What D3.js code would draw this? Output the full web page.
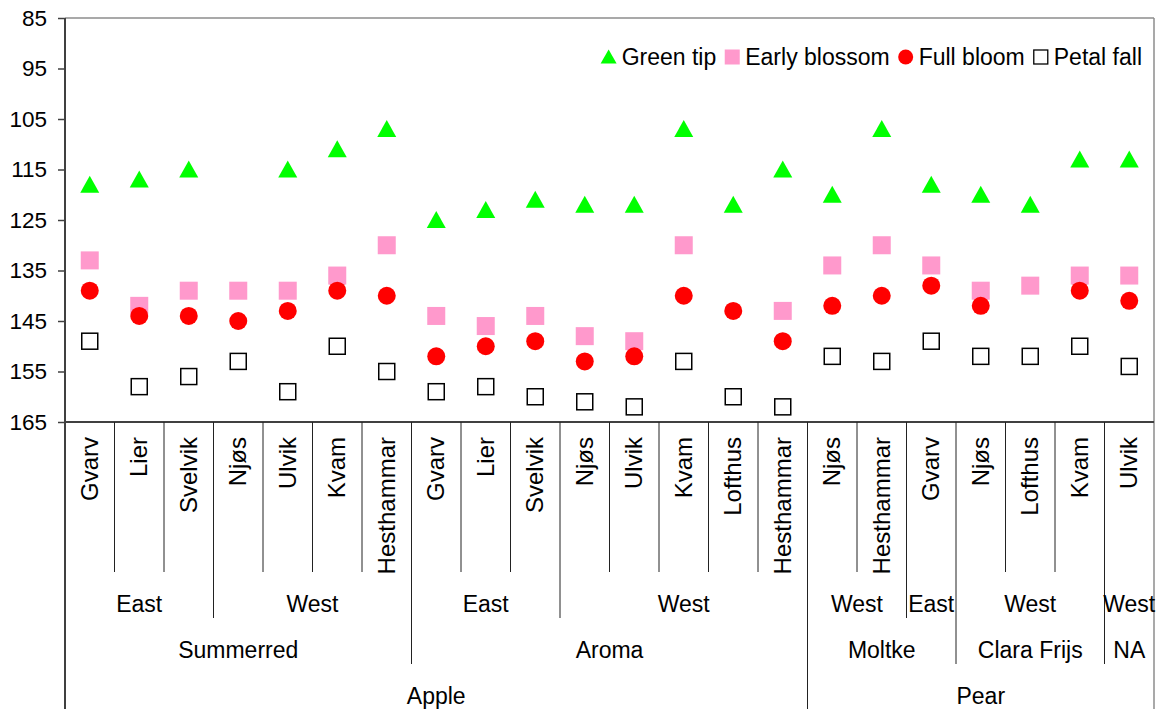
<!DOCTYPE html>
<html>
<head>
<meta charset="utf-8">
<script src="https://cdn.jsdelivr.net/npm/d3@7"></script>
<style>
  html, body { margin: 0; padding: 0; background: #fff; }
  svg { display: block; font-family: "Liberation Sans", Arial, sans-serif; }
</style>
</head>
<body>
<svg id="chart" width="1160" height="709"></svg>
<script>
// ---- data ----
const sites = ["Gvarv","Lier","Svelvik","Njøs","Ulvik","Kvam","Hesthammar",
               "Gvarv","Lier","Svelvik","Njøs","Ulvik","Kvam","Lofthus","Hesthammar",
               "Njøs","Hesthammar","Gvarv","Njøs","Lofthus","Kvam","Ulvik"];
const regions = ["East","East","East","West","West","West","West",
                 "East","East","East","West","West","West","West","West",
                 "West","West","East","West","West","West","West"];
const cultivars = ["Summerred","Summerred","Summerred","Summerred","Summerred","Summerred","Summerred",
                   "Aroma","Aroma","Aroma","Aroma","Aroma","Aroma","Aroma","Aroma",
                   "Moltke","Moltke","Moltke","Clara Frijs","Clara Frijs","Clara Frijs","NA"];
const fruits = ["Apple","Apple","Apple","Apple","Apple","Apple","Apple",
                "Apple","Apple","Apple","Apple","Apple","Apple","Apple","Apple",
                "Pear","Pear","Pear","Pear","Pear","Pear","Pear"];

const greenTip     = [118,117,115,null,115,111,107,125,123,121,122,122,107,122,115,120,107,118,120,122,113,113];
const earlyBlossom = [133,142,139,139,139,136,130,144,146,144,148,149,130,null,143,134,130,134,139,138,136,136];
const fullBloom    = [139,144,144,145,143,139,140,152,150,149,153,152,140,143,149,142,140,138,142,null,139,141];
const petalFall    = [149,158,156,153,159,150,155,159,158,160,161,162,153,160,162,152,153,149,152,152,150,154];

const seriesNames = ["Green tip","Early blossom","Full bloom","Petal fall"];
const yTicks = [85,95,105,115,125,135,145,155,165];

// ---- layout ----
(function () {
const svg = d3.select("#chart");
const pLeft = 65, pRight = 1154, pTop = 18, pBottom = 422;
const fullBottom = 709;

const x = d3.scaleBand().domain(d3.range(sites.length)).range([pLeft, pRight]).padding(0);
const y = d3.scaleLinear().domain([85, 165]).range([pTop, pBottom]);

// plot border (top/right)
svg.append("line").attr("x1", pLeft).attr("x2", pRight).attr("y1", pTop).attr("y2", pTop)
  .attr("stroke", "#8c8c8c").attr("stroke-width", 1.5);
svg.append("line").attr("x1", pRight).attr("x2", pRight).attr("y1", pTop).attr("y2", fullBottom)
  .attr("stroke", "#8c8c8c").attr("stroke-width", 1.5);

// y axis
const yAxis = d3.axisLeft(y).tickValues(yTicks).tickSize(7).tickPadding(11).tickFormat(d3.format("d"));
const gy = svg.append("g").attr("transform", `translate(${pLeft},0)`).call(yAxis);
gy.select(".domain").remove();
gy.selectAll(".tick line").attr("stroke", "#404040").attr("stroke-width", 1.5);
gy.selectAll(".tick text").attr("font-size", 22.5).attr("fill", "#000")
  .attr("font-family", "Liberation Sans, Arial, sans-serif");
svg.append("line").attr("x1", pLeft).attr("x2", pLeft).attr("y1", pTop).attr("y2", fullBottom)
  .attr("stroke", "#404040").attr("stroke-width", 2);
// x axis line
svg.append("line").attr("x1", pLeft).attr("x2", pRight).attr("y1", pBottom).attr("y2", pBottom)
  .attr("stroke", "#404040").attr("stroke-width", 2);

// ---- multi-level category axis ----
const levelEnds = [572, 618, 664, 709];
const levels = [sites, regions, cultivars, fruits];
for (let i = 1; i < sites.length; i++) {
  let depth = 0;
  for (let l = 1; l < levels.length; l++) {
    let changed = false;
    for (let k = l; k < levels.length; k++) if (levels[k][i] !== levels[k][i-1]) changed = true;
    if (changed) depth = l;
  }
  const bx = x(i);
  svg.append("line").attr("x1", bx).attr("x2", bx).attr("y1", pBottom).attr("y2", levelEnds[depth])
    .attr("stroke", "#222").attr("stroke-width", 1);
}
svg.append("g").selectAll("text").data(sites).join("text")
  .attr("transform", (d, i) => `translate(${x(i) + x.bandwidth()/2 + 8},437) rotate(-90)`)
  .attr("text-anchor", "end")
  .attr("font-size", 24)
  .attr("fill", "#000")
  .text(d => d);

function runs(l) {
  const out = [];
  let start = 0;
  for (let i = 1; i <= sites.length; i++) {
    let brk = i === sites.length;
    if (!brk) for (let k = l; k < levels.length; k++) if (levels[k][i] !== levels[k][i-1]) brk = true;
    if (brk) { out.push({label: levels[l][start], s: start, e: i}); start = i; }
  }
  return out;
}
const levelBaselines = [null, 612, 658, 704];
for (let l = 1; l < levels.length; l++) {
  svg.append("g").selectAll("text").data(runs(l)).join("text")
    .attr("x", d => (x(d.s) + (d.e < sites.length ? x(d.e) : pRight)) / 2)
    .attr("y", levelBaselines[l])
    .attr("text-anchor", "middle")
    .attr("font-size", 23)
    .attr("fill", "#000")
    .text(d => d.label);
}

// ---- markers ----
const triPath = "M0,-9 L9.5,8 L-9.5,8 Z";
const gm = svg.append("g");
gm.selectAll(".gt").data(greenTip.map((v, i) => ({v, i})).filter(d => d.v != null)).join("path")
  .attr("d", triPath).attr("fill", "#00ff00")
  .attr("transform", d => `translate(${x(d.i) + x.bandwidth()/2},${y(d.v)})`);
gm.selectAll(".eb").data(earlyBlossom.map((v, i) => ({v, i})).filter(d => d.v != null)).join("rect")
  .attr("x", d => x(d.i) + x.bandwidth()/2 - 9).attr("y", d => y(d.v) - 9)
  .attr("width", 18).attr("height", 18).attr("fill", "#ff99cc");
gm.selectAll(".fb").data(fullBloom.map((v, i) => ({v, i})).filter(d => d.v != null)).join("circle")
  .attr("cx", d => x(d.i) + x.bandwidth()/2).attr("cy", d => y(d.v))
  .attr("r", 9).attr("fill", "#ff0000");
gm.selectAll(".pf").data(petalFall.map((v, i) => ({v, i})).filter(d => d.v != null)).join("rect")
  .attr("x", d => x(d.i) + x.bandwidth()/2 - 8).attr("y", d => y(d.v) - 8)
  .attr("width", 16).attr("height", 16).attr("fill", "#fff")
  .attr("stroke", "#000").attr("stroke-width", 1.5);

// ---- legend ----
const lg = svg.append("g");
const legendY = 57;
const items = [];
let cx = 0;
seriesNames.forEach((name, k) => {
  const g = lg.append("g");
  if (k === 0) g.append("path").attr("d", "M0,-7.5 L8,6.5 L-8,6.5 Z").attr("fill", "#00ff00");
  if (k === 1) g.append("rect").attr("x", -7.5).attr("y", -7.5).attr("width", 15).attr("height", 15).attr("fill", "#ff99cc");
  if (k === 2) g.append("circle").attr("r", 7.5).attr("fill", "#ff0000");
  if (k === 3) g.append("rect").attr("x", -7).attr("y", -7).attr("width", 14).attr("height", 14)
    .attr("fill", "#fff").attr("stroke", "#000").attr("stroke-width", 1.3);
  const t = g.append("text").attr("x", 13).attr("y", 7.5).attr("font-size", 23).attr("fill", "#000").text(name);
  const w = t.node().getComputedTextLength();
  items.push({g, offset: cx});
  cx += 13 + w + 16;
});
const totalW = cx - 16 + 7.5;
const startX = 1142 - totalW + 7.5;
items.forEach(it => it.g.attr("transform", `translate(${startX + it.offset},${legendY})`));
})();
</script>
</body>
</html>
